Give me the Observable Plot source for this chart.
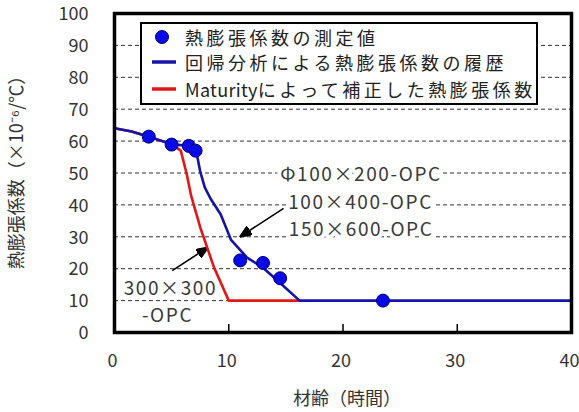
<!DOCTYPE html>
<html><head><meta charset="utf-8">
<script src="https://cdn.jsdelivr.net/npm/d3@7"></script>
<script src="https://cdn.jsdelivr.net/npm/@observablehq/plot@0.6"></script>
<style>
body{margin:0;background:#fff;}
#wrap{position:relative;width:579px;height:412px;font-family:"Noto Sans CJK JP",sans-serif;}
#legend{position:absolute;left:140px;top:22px;width:394px;height:79px;border:2px solid #000;background:#fff;}
#legend .t{position:absolute;left:43px;font-size:18px;letter-spacing:3.5px;color:#222;line-height:20px;white-space:nowrap;}
#legend .t .l{letter-spacing:0.3px;}
#legend svg{position:absolute;left:0;top:0;}
.ann text{letter-spacing:1.6px;}
</style></head>
<body>
<div id="wrap"><div id="chart"></div><div id="legend"></div></div>
<script>
// measured points
const pointsX = [3.0, 5.0, 6.5, 7.1, 11.0, 13.0, 14.5, 23.5];
const pointsY = [61.4, 58.9, 58.5, 57.0, 22.6, 21.8, 17.0, 10.0];
// regression history (blue)
const blueX = [0, 1.5, 3.0, 5.0, 6.5, 7.2, 7.5, 7.9, 8.4, 9.3, 10.2, 11.6, 13.0, 14.5, 16.2, 40];
const blueY = [64, 63, 61.4, 59, 58.5, 56, 50.5, 45.5, 42, 37, 29, 23.5, 20.3, 15.5, 10, 10];
// maturity corrected (red)
const redX = [0, 1.5, 3.0, 5.0, 5.8, 6.3, 6.7, 7.5, 8.7, 10.0, 16.2];
const redY = [64, 63, 61.4, 59, 57, 50, 43, 33, 20.5, 10, 10];
// axes
const xTicks = [0, 10, 20, 30, 40];
const xInnerTicks = [10, 20, 30];
const yTicks = [0, 10, 20, 30, 40, 50, 60, 70, 80, 90, 100];
const gridY = [10, 20, 30, 40, 50, 60, 70, 80, 90];
const xLabel = "材齢（時間）";
const yLabel = "熱膨張係数（×10⁻⁶/℃）";
const legendLabels = ["熱膨張係数の測定値", "回帰分析による熱膨張係数の履歴", "Maturityによって補正した熱膨張係数"];
// annotations
const annText = ["Φ100×200-OPC", "100×400-OPC", "150×600-OPC", "300×300", "-OPC"];
const annX = [14.5, 15.2, 15.25, 0.8, 2.4];
const annY = [49.3, 40.6, 32.3, 13.8, 5.3];
const arrowX1 = [14.8, 5.05], arrowY1 = [38.9, 19.4], arrowX2 = [11.4, 7.76], arrowY2 = [31.0, 25.7];

const BLUE = "#1414a8", RED = "#e01818", DOT = "#0a0ae8";
const pts = pointsX.map((x, i) => ({x, y: pointsY[i]}));
const blue = blueX.map((x, i) => ({x, y: blueY[i]}));
const red = redX.map((x, i) => ({x, y: redY[i]}));
const ann = annText.map((t, i) => ({t, x: annX[i], y: annY[i]}));
const arrows = arrowX1.map((x1, i) => ({x1, y1: arrowY1[i], x2: arrowX2[i], y2: arrowY2[i]}));

function tri(color, context) {
  const m = d3.create("svg:marker")
    .attr("viewBox", "-6 -5 12 10").attr("markerWidth", 12).attr("markerHeight", 10)
    .attr("orient", "auto").attr("markerUnits", "userSpaceOnUse").attr("fill", "#000");
  m.append("path").attr("d", "M-6,-5L6,0L-6,5Z");
  return m.node();
}

const chart = Plot.plot({
  width: 579, height: 412,
  marginLeft: 114, marginRight: 8, marginTop: 13, marginBottom: 80,
  style: {fontFamily: '"Noto Sans CJK JP", sans-serif', fontSize: "19px", color: "#333", background: "#fff"},
  x: {domain: [0, 40], ticks: xTicks},
  y: {domain: [0, 100], ticks: yTicks},
  marks: [
    Plot.ruleY(gridY, {stroke: "#333", strokeDasharray: "4,3", strokeWidth: 1}),
    Plot.text(ann, {x: "x", y: "y", text: "t", textAnchor: "start", fontSize: 19, fill: "#3a3a3a", stroke: "#fff", strokeWidth: 8, className: "ann"}),
    Plot.link(arrows, {x1: "x1", y1: "y1", x2: "x2", y2: "y2", stroke: "#000", strokeWidth: 1.6, markerEnd: tri}),
    Plot.line(red, {x: "x", y: "y", stroke: RED, strokeWidth: 2.6}),
    Plot.line(blue, {x: "x", y: "y", stroke: BLUE, strokeWidth: 2.6}),
    Plot.dot(pts, {x: "x", y: "y", r: 6.5, fill: DOT, stroke: "#000070", strokeWidth: 1}),
    Plot.tickX(xInnerTicks, {x: d => d, insetTop: 311, stroke: "#000", strokeWidth: 1.5}),
    Plot.frame({stroke: "#000", strokeWidth: 3.5}),
    Plot.axisX({ticks: xTicks, tickSize: 0, tickPadding: 22, label: null, fontSize: 18, dx: -2}),
    Plot.axisY({ticks: yTicks, tickSize: 0, tickPadding: 26, label: null, fontSize: 18, dy: 1}),
    Plot.text([xLabel], {text: d => d, frameAnchor: "bottom", dy: 72, dx: 4, fontSize: 18, fill: "#333"}),
    Plot.text([yLabel], {text: d => d, frameAnchor: "left", textAnchor: "middle", rotate: -90, dx: -97, dy: -5, fontSize: 18, fill: "#333"})
  ]
});
document.getElementById("chart").appendChild(chart);

// legend
const lg = document.getElementById("legend");
const rowY = [13, 38, 65];
const sw = d3.create("svg").attr("width", 394).attr("height", 79);
sw.append("circle").attr("cx", 20).attr("cy", rowY[0]).attr("r", 6.5).attr("fill", DOT).attr("stroke", "#000070");
sw.append("line").attr("x1", 10).attr("x2", 34).attr("y1", rowY[1]).attr("y2", rowY[1]).attr("stroke", BLUE).attr("stroke-width", 3.5);
sw.append("line").attr("x1", 10).attr("x2", 34).attr("y1", rowY[2]).attr("y2", rowY[2]).attr("stroke", RED).attr("stroke-width", 3.5);
lg.appendChild(sw.node());
legendLabels.forEach((s, i) => {
  const d = document.createElement("div");
  d.className = "t"; d.style.top = (rowY[i] - 10) + "px";
  const m = s.match(/^([A-Za-z]+)(.*)$/);
  if (m) {
    const a = document.createElement("span"); a.className = "l"; a.textContent = m[1];
    d.appendChild(a); d.appendChild(document.createTextNode(m[2]));
  } else d.textContent = s;
  lg.appendChild(d);
});
</script>
</body></html>
